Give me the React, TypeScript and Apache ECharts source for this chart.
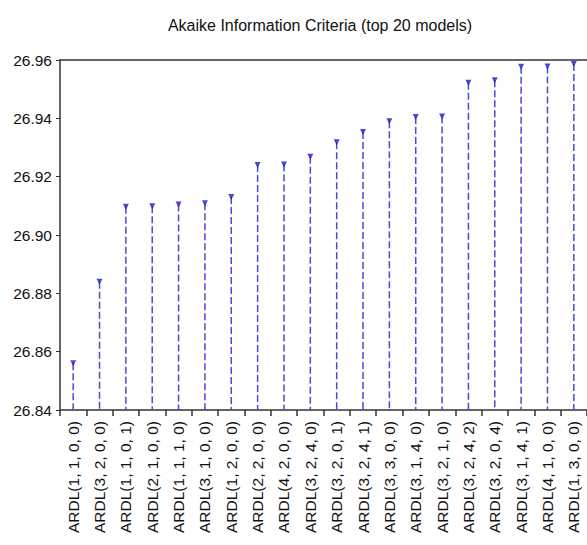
import React, { useEffect, useRef } from "react";
import * as echarts from "echarts";

const models = [
  "ARDL(1, 1, 0, 0)", "ARDL(3, 2, 0, 0)", "ARDL(1, 1, 0, 1)", "ARDL(2, 1, 0, 0)",
  "ARDL(1, 1, 1, 0)", "ARDL(3, 1, 0, 0)", "ARDL(1, 2, 0, 0)", "ARDL(2, 2, 0, 0)",
  "ARDL(4, 2, 0, 0)", "ARDL(3, 2, 4, 0)", "ARDL(3, 2, 0, 1)", "ARDL(3, 2, 4, 1)",
  "ARDL(3, 3, 0, 0)", "ARDL(3, 1, 4, 0)", "ARDL(3, 2, 1, 0)", "ARDL(3, 2, 4, 2)",
  "ARDL(3, 2, 0, 4)", "ARDL(3, 1, 4, 1)", "ARDL(4, 1, 0, 0)", "ARDL(1, 3, 0, 0)",
];
const aicValues = [
  26.856, 26.884, 26.9097, 26.9099, 26.9105, 26.9109, 26.913, 26.924,
  26.9242, 26.9268, 26.9318, 26.9353, 26.939, 26.9405, 26.9406, 26.9522,
  26.9531, 26.9577, 26.9578, 26.9586,
];
const yMin = 26.84;
const yMax = 26.96;
const yStep = 0.02;

export default function App() {
  const ref = useRef<HTMLDivElement>(null);
  useEffect(() => {
    document.body.style.margin = "0";
    const chart = echarts.init(ref.current!, undefined, { renderer: "svg" });
    const font = "'Liberation Sans', Arial, sans-serif";
    chart.setOption({
      animation: false,
      backgroundColor: "#ffffff",
      title: {
        text: "Akaike Information Criteria (top 20 models)",
        left: 315,
        top: 12,
        textAlign: "center",
        textStyle: { fontFamily: font, fontSize: 16, fontWeight: "normal", color: "#111" },
      },
      grid: { left: 60, right: 0, top: 60, bottom: 135, containLabel: false },
      xAxis: [
        {
          type: "category",
          data: models,
          boundaryGap: true,
          axisLine: { show: true, lineStyle: { color: "#333", width: 1.5 } },
          axisTick: { show: true, length: 6, alignWithLabel: false, lineStyle: { color: "#333", width: 1.5 } },
          axisLabel: {
            rotate: 90,
            interval: 0,
            margin: 11,
            fontFamily: font,
            fontSize: 15.5,
            color: "#111",
          },
        },
        {
          type: "category",
          data: models,
          position: "top",
          axisLine: { show: true, lineStyle: { color: "#333", width: 1.5 } },
          axisTick: { show: false },
          axisLabel: { show: false },
        },
      ],
      yAxis: {
        type: "value",
        min: yMin,
        max: yMax,
        interval: yStep,
        axisLine: { show: true, lineStyle: { color: "#333", width: 1.5 } },
        axisTick: { show: true, length: 4, lineStyle: { color: "#333" } },
        splitLine: { show: false },
        axisLabel: {
          fontFamily: font,
          fontSize: 15.5,
          color: "#111",
          margin: 8,
          formatter: (v: number) => v.toFixed(2),
        },
      },
      series: [
        {
          type: "custom",
          xAxisIndex: 0,
          data: aicValues.map((v, i) => [i, v]),
          renderItem: (params: any, api: any) => {
            const i = api.value(0);
            const top = api.coord([i, api.value(1)]);
            const bot = api.coord([i, yMin]);
            return {
              type: "line",
              shape: { x1: top[0], y1: top[1], x2: bot[0], y2: bot[1] },
              style: { stroke: "#4a4ad8", lineWidth: 1.5, lineDash: [7, 3] },
            };
          },
          z: 2,
        },
        {
          type: "scatter",
          xAxisIndex: 0,
          data: aicValues,
          symbol: "triangle",
          symbolRotate: 180,
          symbolSize: [6, 6],
          itemStyle: { color: "#1a1ac0" },
          z: 3,
        },
      ],
    });
    return () => chart.dispose();
  }, []);
  return <div ref={ref} style={{ width: 587, height: 545 }} />;
}
